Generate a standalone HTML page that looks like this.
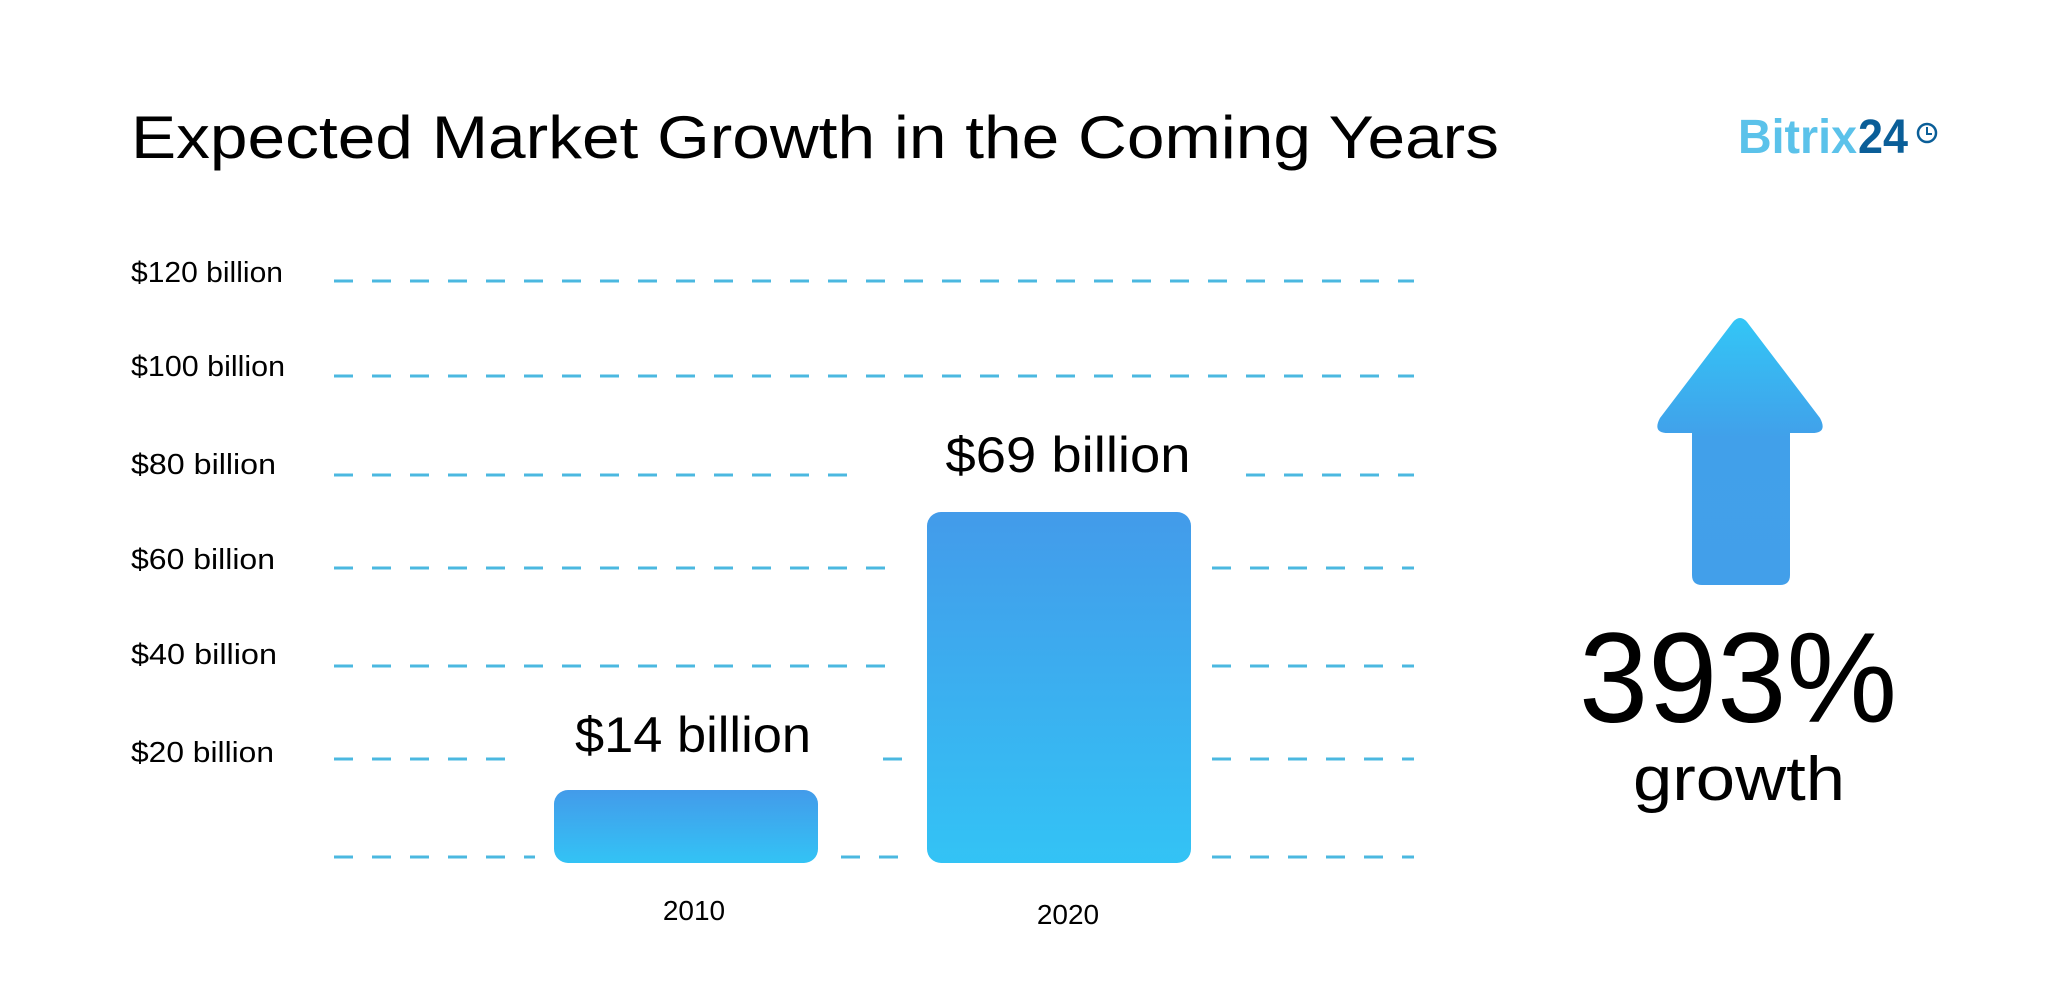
<!DOCTYPE html>
<html><head><meta charset="utf-8"><style>html,body{margin:0;padding:0;background:#fff;}svg{display:block}</style></head>
<body>
<svg width="2048" height="1000" viewBox="0 0 2048 1000" xmlns="http://www.w3.org/2000/svg" font-family="Liberation Sans, sans-serif">
<defs>
<linearGradient id="bg" x1="0" y1="0" x2="0" y2="1"><stop offset="0" stop-color="#439bea"/><stop offset="1" stop-color="#33c3f5"/></linearGradient>
<linearGradient id="ag" x1="0" y1="0" x2="0" y2="1"><stop offset="0" stop-color="#33c6f6"/><stop offset="0.45" stop-color="#41a0ea"/><stop offset="1" stop-color="#429fea"/></linearGradient>
</defs>
<text x="131" y="158" font-size="60" fill="#000" textLength="1368" lengthAdjust="spacingAndGlyphs">Expected Market Growth in the Coming Years</text>
<text x="1738" y="153" font-size="48" font-weight="bold" fill="#5bc2ea" textLength="119" lengthAdjust="spacingAndGlyphs">Bitrix</text>
<text x="1858" y="153" font-size="48" font-weight="bold" fill="#0a5e98" textLength="50" lengthAdjust="spacingAndGlyphs">24</text>
<circle cx="1927" cy="133" r="9" fill="none" stroke="#0a5e98" stroke-width="2.5"/>
<path d="M1927 127 V134 H1932" fill="none" stroke="#0a5e98" stroke-width="2"/>
<g stroke="#4bb8e0" stroke-width="3" stroke-dasharray="19 19">
<line x1="334" y1="281" x2="1414" y2="281"/>
<line x1="334" y1="376" x2="1414" y2="376"/>
<line x1="334" y1="475" x2="865" y2="475"/><line x1="1246" y1="475" x2="1414" y2="475"/>
<line x1="334" y1="568" x2="904" y2="568"/><line x1="1212" y1="568" x2="1414" y2="568"/>
<line x1="334" y1="666" x2="904" y2="666"/><line x1="1212" y1="666" x2="1414" y2="666"/>
<line x1="334" y1="759" x2="507" y2="759"/><line x1="883" y1="759" x2="904" y2="759"/><line x1="1212" y1="759" x2="1414" y2="759"/>
<line x1="334" y1="857" x2="535" y2="857"/><line x1="841" y1="857" x2="904" y2="857"/><line x1="1212" y1="857" x2="1414" y2="857"/>
</g>
<g font-size="29" fill="#000">
<text x="131" y="282" textLength="152" lengthAdjust="spacingAndGlyphs">$120 billion</text>
<text x="131" y="376" textLength="154" lengthAdjust="spacingAndGlyphs">$100 billion</text>
<text x="131" y="474" textLength="145" lengthAdjust="spacingAndGlyphs">$80 billion</text>
<text x="131" y="569" textLength="144" lengthAdjust="spacingAndGlyphs">$60 billion</text>
<text x="131" y="664" textLength="146" lengthAdjust="spacingAndGlyphs">$40 billion</text>
<text x="131" y="762" textLength="143" lengthAdjust="spacingAndGlyphs">$20 billion</text>
</g>
<rect x="554" y="790" width="264" height="73" rx="14" fill="url(#bg)"/>
<rect x="927" y="512" width="264" height="351" rx="14" fill="url(#bg)"/>
<text x="693" y="752" font-size="50" text-anchor="middle" textLength="236" lengthAdjust="spacingAndGlyphs">$14 billion</text>
<text x="1068" y="472" font-size="50" text-anchor="middle" textLength="245" lengthAdjust="spacingAndGlyphs">$69 billion</text>
<text x="694" y="920" font-size="28" text-anchor="middle">2010</text>
<text x="1068" y="924" font-size="28" text-anchor="middle">2020</text>
<path d="M1733 322 Q1740 314 1747 322 L1820 418 Q1828 433 1812 433 L1790 433 L1790 575 Q1790 585 1780 585 L1702 585 Q1692 585 1692 575 L1692 433 L1668 433 Q1652 433 1660 418 Z" fill="url(#ag)"/>
<text x="1738" y="722" font-size="128" text-anchor="middle" textLength="318" lengthAdjust="spacingAndGlyphs">393%</text>
<text x="1739" y="800" font-size="62" text-anchor="middle" textLength="212" lengthAdjust="spacingAndGlyphs">growth</text>
</svg>
</body></html>
